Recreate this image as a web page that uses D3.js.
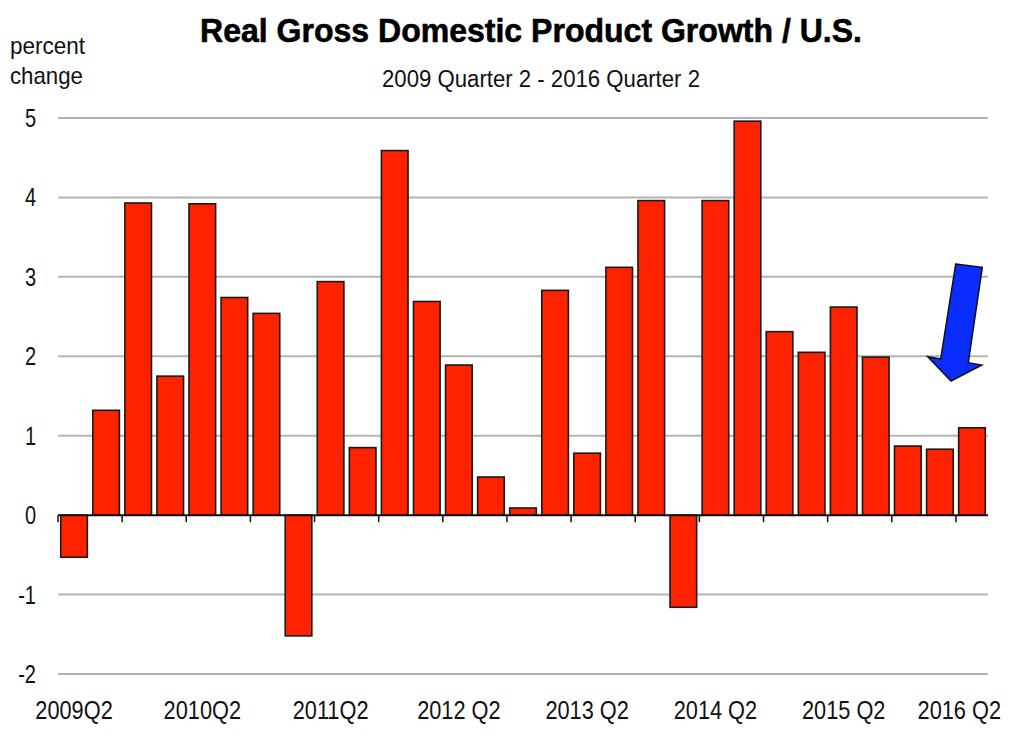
<!DOCTYPE html>
<html><head><meta charset="utf-8">
<script src="https://cdn.jsdelivr.net/npm/d3@7"></script>
<style>body{margin:0;background:#fff}svg{display:block}text{font-family:"Liberation Sans",Arial,sans-serif}</style>
</head><body><svg id="c" width="1024" height="733"></svg>
<script>
const quarters = ["2009Q2","2009Q3","2009Q4","2010Q1","2010Q2","2010Q3","2010Q4","2011Q1","2011Q2","2011Q3","2011Q4","2012Q1","2012Q2","2012Q3","2012Q4","2013Q1","2013Q2","2013Q3","2013Q4","2014Q1","2014Q2","2014Q3","2014Q4","2015Q1","2015Q2","2015Q3","2015Q4","2016Q1","2016Q2"];
const growth = [-0.53,1.32,3.93,1.75,3.92,2.74,2.54,-1.52,2.94,0.85,4.59,2.69,1.89,0.48,0.09,2.83,0.78,3.12,3.96,-1.16,3.96,4.96,2.31,2.05,2.62,1.99,0.87,0.83,1.10];
const xLabels = [["2009Q2","2009Q2"],["2010Q2","2010Q2"],["2011Q2","2011Q2"],["2012Q2","2012 Q2"],["2013Q2","2013 Q2"],["2014Q2","2014 Q2"],["2015Q2","2015 Q2"],["2016Q2","2016 Q2"]];
const yTicks = [-2,-1,0,1,2,3,4,5];

function narrow(sel, factor, target){
  sel.each(function(){
    const w = this.getComputedTextLength();
    const t = target != null ? target : w*factor;
    this.setAttribute("textLength", t);
    this.setAttribute("lengthAdjust","spacingAndGlyphs");
  });
}

const svg = d3.select("#c");
const x = d3.scaleBand().domain(quarters).range([58,988]).paddingInner(0.17).paddingOuter(0.085);
const y = d3.scaleLinear().domain([-2,5]).range([674,118]);

// gridlines
svg.append("g").selectAll("line").data(yTicks.filter(d=>d!==0)).join("line")
  .attr("x1",58).attr("x2",988).attr("y1",d=>y(d)).attr("y2",d=>y(d))
  .attr("stroke","#b4b4b4").attr("stroke-width",2);

// y labels
svg.append("g").selectAll("text").data(yTicks).join("text")
  .attr("x",36).attr("y",d=>y(d)+9).attr("text-anchor","end")
  .attr("font-size",25).attr("fill","#111").text(d=>d)
  .call(narrow,0.8);

// bars
svg.append("g").selectAll("rect").data(growth).join("rect")
  .attr("x",(d,i)=>x(quarters[i]))
  .attr("width",x.bandwidth())
  .attr("y",d=>y(Math.max(0,d)))
  .attr("height",d=>Math.abs(y(d)-y(0)))
  .attr("fill","#ff2200").attr("stroke","#1a1a1a").attr("stroke-width",1.6);

// zero axis
svg.append("line").attr("x1",58).attr("x2",988).attr("y1",y(0)).attr("y2",y(0))
  .attr("stroke","#111").attr("stroke-width",2);
const step = x.step();
svg.append("g").selectAll("line").data(quarters.filter((q,i)=>i%2===0)).join("line")
  .attr("x1",q=>x(q)-step*x.paddingInner()/2).attr("x2",q=>x(q)-step*x.paddingInner()/2)
  .attr("y1",y(0)).attr("y2",y(0)+7).attr("stroke","#111").attr("stroke-width",1.5);

// x labels
svg.append("g").selectAll("text").data(xLabels).join("text")
  .attr("x",d=>x(d[0])+x.bandwidth()/2).attr("y",719).attr("text-anchor","middle")
  .attr("font-size",25).attr("fill","#111").text(d=>d[1])
  .call(narrow,0.87)
  .each(function(){
    const w=+this.getAttribute("textLength"); const cx=+this.getAttribute("x");
    if(cx+w/2>1001) this.setAttribute("x",1001-w/2);
  });

// titles
svg.append("text").attr("x",531).attr("y",42).attr("text-anchor","middle")
  .attr("font-size",34).attr("font-weight","bold").attr("fill","#000")
  .attr("stroke","#000").attr("stroke-width",0.6)
  .text("Real Gross Domestic Product Growth / U.S.").call(narrow,null,662);
svg.append("text").attr("x",541).attr("y",87).attr("text-anchor","middle")
  .attr("font-size",23).attr("fill","#111").text("2009 Quarter 2 - 2016 Quarter 2").call(narrow,null,318);
svg.append("text").attr("x",10).attr("y",54).attr("font-size",24).attr("fill","#111").text("percent").call(narrow,null,75);
svg.append("text").attr("x",10).attr("y",84).attr("font-size",24).attr("fill","#111").text("change").call(narrow,null,73);

// arrow
const arrow = [[955.7,264],[982.3,267.3],[968.3,362.7],[981.7,365],[951,381],[927.7,356.7],[940.7,359]];
svg.append("polygon").attr("points",arrow.map(p=>p.join(",")).join(" "))
  .attr("fill","#0a2cff").attr("stroke","#111").attr("stroke-width",1.5).attr("stroke-linejoin","miter");
</script></body></html>
